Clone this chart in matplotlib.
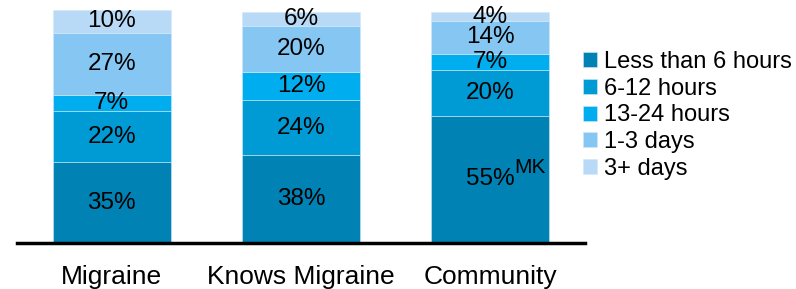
import matplotlib
matplotlib.use("Agg")
import matplotlib.pyplot as plt
import numpy as np

plt.rcParams['font.family'] = ['Liberation Sans', 'DejaVu Sans']

categories = ["Migraine", "Knows Migraine", "Community"]
series_names = ["Less than 6 hours", "6-12 hours", "13-24 hours", "1-3 days", "3+ days"]
less_6h = [35, 38, 55]
h6_12 = [22, 24, 20]
h13_24 = [7, 12, 7]
d1_3 = [27, 20, 14]
d3_plus = [10, 6, 4]
series = [less_6h, h6_12, h13_24, d1_3, d3_plus]
colors = ["#0082B4", "#009AD4", "#00AEEF", "#86C6F2", "#B8DAF6"]

fig = plt.figure(figsize=(7.96, 2.89), dpi=100)
ax = fig.add_axes([17/796, 46/289, (585-17)/796, 231/289])

x = np.arange(len(categories))
bottom = np.zeros(len(categories))
handles = []
for name, vals, c in zip(series_names, series, colors):
    vals = np.array(vals, dtype=float)
    b = ax.bar(x, vals, 0.623, bottom=bottom, color=c, edgecolor="#cfe9f7",
               linewidth=0.4, label=name, clip_on=False)
    handles.append(b)
    for xi, v, bt in zip(x, vals, bottom):
        ax.text(xi, bt + v/2, f"{int(v)}%", ha="center", va="center",
                fontsize=17.5, color="black", clip_on=False)
    bottom += vals

ax.text(2.125, 28.5, "MK", ha="left", va="bottom", fontsize=15, color="black")

ax.set_xlim(-0.5, 2.5)
ax.set_ylim(0, 100)
for s in ["top", "right", "left"]:
    ax.spines[s].set_visible(False)
ax.spines["bottom"].set_linewidth(2.5)
ax.spines["bottom"].set_color("black")
ax.set_yticks([])
ax.set_xticks(x)
ax.set_xticklabels(categories, fontsize=19)
ax.tick_params(axis="x", length=0, pad=16)

leg = fig.legend(handles=handles, labels=series_names, loc="upper left",
                 bbox_to_anchor=(583/796, 1 - 51/289), frameon=False,
                 fontsize=17, handlelength=0.6, handleheight=0.6,
                 handletextpad=0.3, labelspacing=0.2, borderpad=0, borderaxespad=0)

fig.savefig("out.png", dpi=100)
